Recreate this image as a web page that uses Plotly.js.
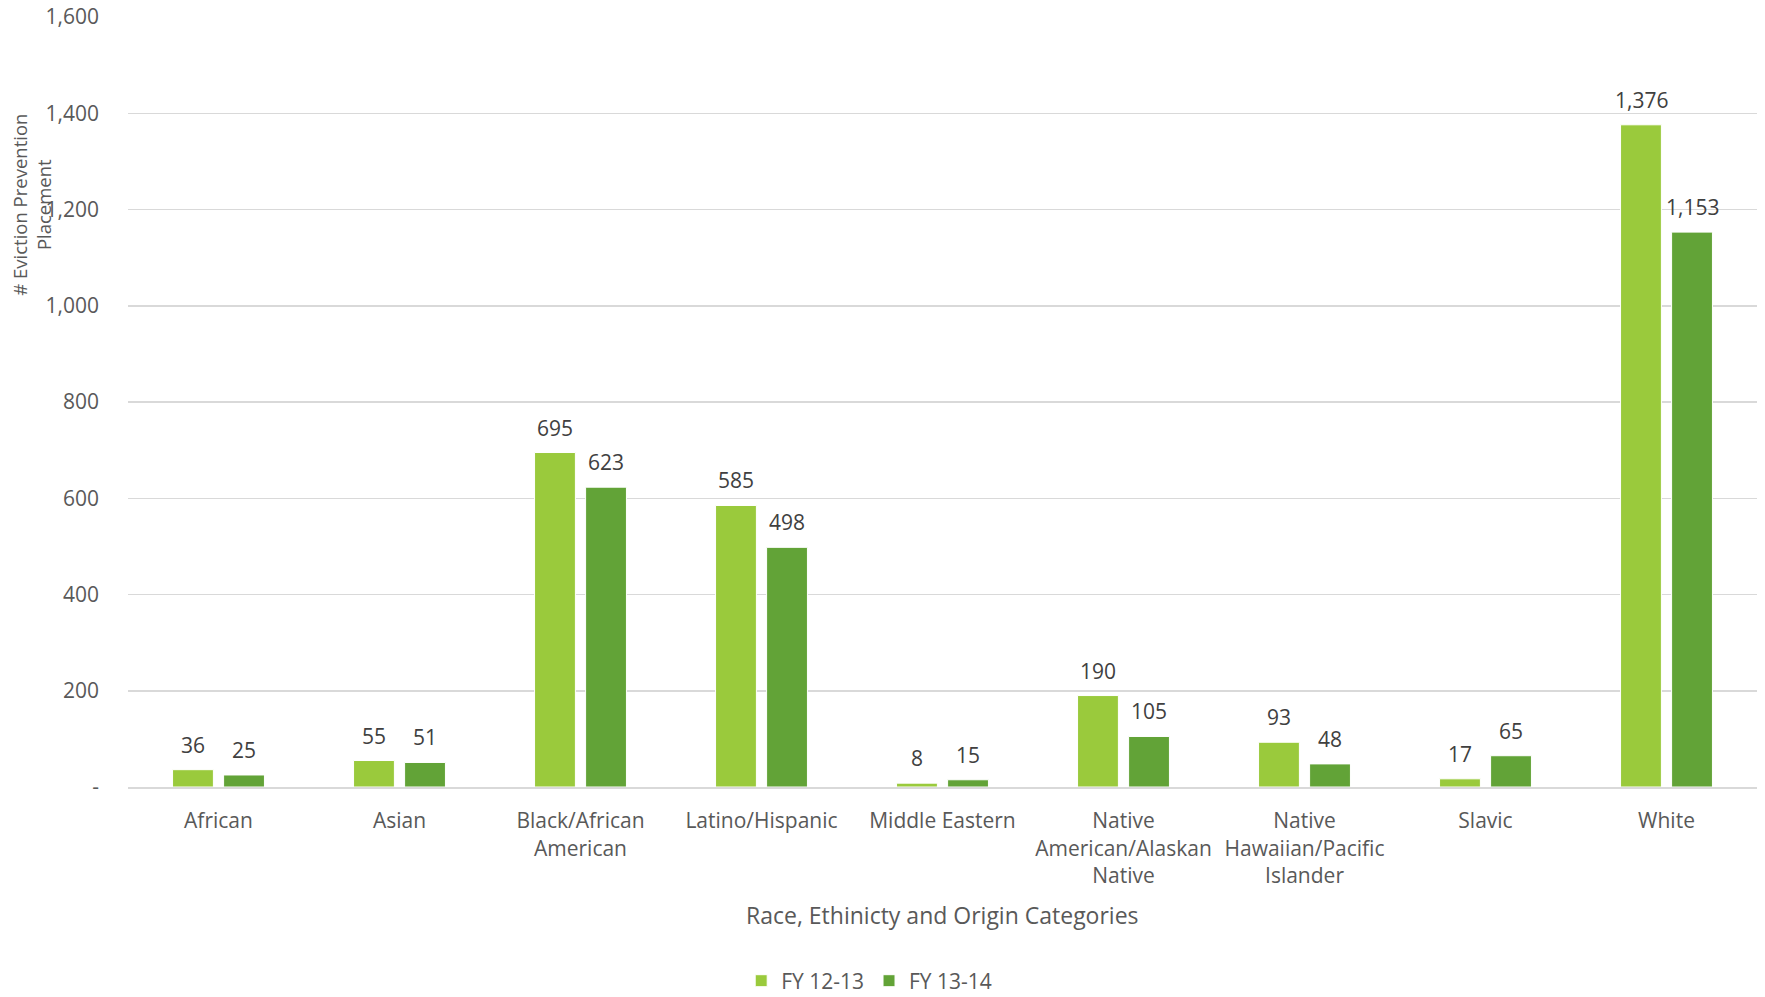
<!DOCTYPE html>
<html>
<head>
<meta charset="utf-8">
<script src="https://cdn.plot.ly/plotly-3.0.1.min.js"></script>
<style>html,body{margin:0;padding:0;background:#fff;}#chart{width:1765px;height:997px;}</style>
</head>
<body>
<div id="chart"></div>
<script>
const categories = ["African","Asian","Black/African<br>American","Latino/Hispanic","Middle Eastern","Native<br>American/Alaskan<br>Native","Native<br>Hawaiian/Pacific<br>Islander","Slavic","White"];
const seriesNames = ["FY 12-13","FY 13-14"];
const fy1213 = [36,55,695,585,8,190,93,17,1376];
const fy1314 = [25,51,623,498,15,105,48,65,1153];
const yTickVals = [0,200,400,600,800,1000,1200,1400,1600];
const yTickText = ["-","200","400","600","800","1,000","1,200","1,400","1,600"];
const colors = ["#9ACA3C","#62A337"];

const FONT = "Open Sans, sans-serif";
const fmt = v => v.toLocaleString("en-US");

const traces = [fy1213, fy1314].map((vals, i) => ({
  type: "bar",
  name: seriesNames[i],
  x: categories,
  y: vals,
  marker: {color: colors[i], line: {color: "#ffffff", width: 1}},
  hoverinfo: "x+y"
}));

const annotations = [];
[fy1213, fy1314].forEach((vals, i) => {
  vals.forEach((v, j) => {
    annotations.push({
      x: categories[j], y: v, xref: "x", yref: "y",
      text: fmt(v), showarrow: false,
      xshift: i === 0 ? -25.5 : 25.5, yshift: 25,
      font: {family: FONT, size: 21, color: "#404040"}
    });
  });
});
annotations.push({
  xref: "paper", yref: "paper", x: -0.059, y: 0.756, xanchor: "center", yanchor: "middle",
  text: "# Eviction Prevention<br>Placement", textangle: -90, showarrow: false,
  font: {family: FONT, size: 18.5, color: "#595959"}
});
annotations.push({
  xref: "paper", yref: "paper", x: 0.5, y: -0.166, xanchor: "center", yanchor: "middle",
  text: "Race, Ethinicty and Origin Categories", showarrow: false,
  font: {family: FONT, size: 23, color: "#595959"}
});

const layout = {
  width: 1765, height: 997,
  margin: {l: 128, r: 8, t: 17, b: 210, autoexpand: false},
  paper_bgcolor: "#ffffff", plot_bgcolor: "#ffffff",
  barmode: "group", bargap: 0.436, bargroupgap: 0.2,
  font: {family: FONT, color: "#595959"},
  xaxis: {
    showgrid: false, showline: true, linecolor: "#d9d9d9", linewidth: 2,
    ticks: "", tickfont: {family: FONT, size: 21, color: "#595959"},
    ticklabelstandoff: 14, automargin: false,
    fixedrange: true
  },
  yaxis: {
    range: [0, 1600], tickvals: yTickVals, ticktext: yTickText,
    showgrid: true, gridcolor: "#d9d9d9", gridwidth: 1.5, zeroline: false,
    showline: false, ticks: "", ticklabelstandoff: 28, automargin: false,
    tickfont: {family: FONT, size: 21, color: "#595959"},
    fixedrange: true
  },
  legend: {
    orientation: "h", x: 0.455, xanchor: "center", y: -0.252, yanchor: "middle",
    font: {family: FONT, size: 21, color: "#595959"}, itemwidth: 30, traceorder: "normal"
  },
  annotations: annotations,
  showlegend: true
};

Plotly.newPlot("chart", traces, layout, {displayModeBar: false, staticPlot: true});
</script>
</body>
</html>
